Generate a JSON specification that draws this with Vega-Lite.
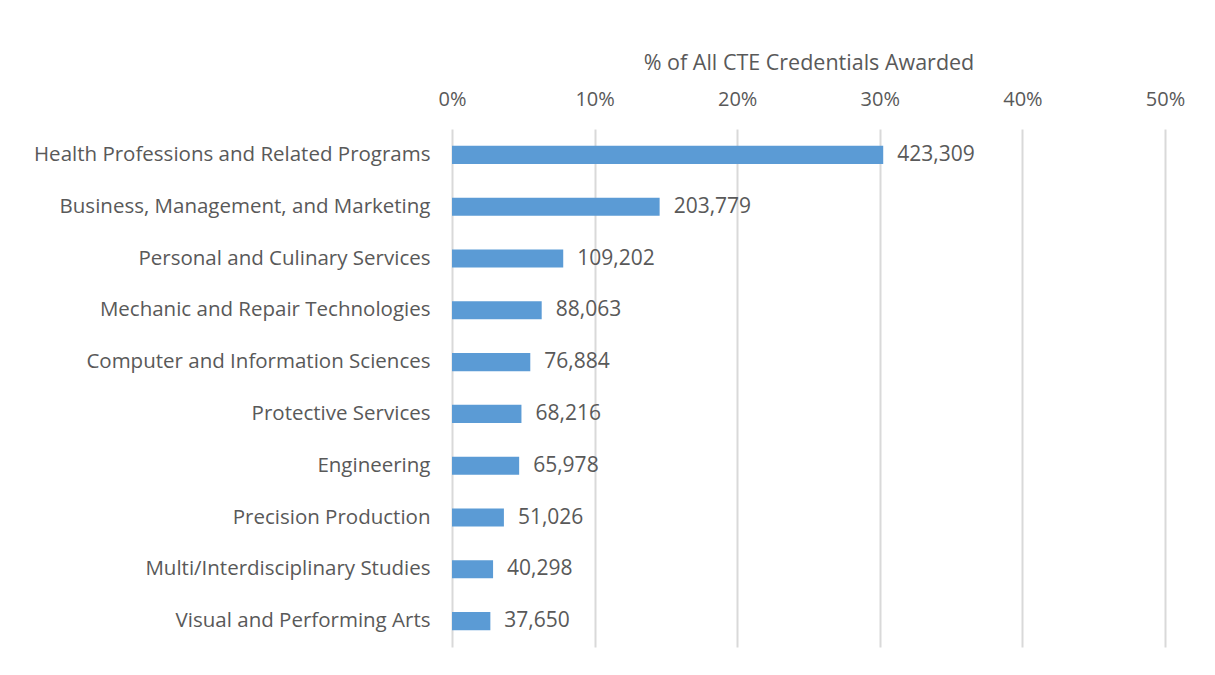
{
  "$schema": "https://vega.github.io/schema/vega-lite/v6.json",
  "width": 713,
  "height": 518,
  "autosize": {"type": "none"},
  "padding": {"left": 452, "top": 129, "right": 50, "bottom": 28},
  "background": "white",
  "config": {
    "view": {"stroke": null},
    "font": "Open Sans"
  },
  "data": {
    "values": [
      {"category": "Health Professions and Related Programs", "pct": 0.3024, "count": 423309},
      {"category": "Business, Management, and Marketing", "pct": 0.1456, "count": 203779},
      {"category": "Personal and Culinary Services", "pct": 0.078, "count": 109202},
      {"category": "Mechanic and Repair Technologies", "pct": 0.0629, "count": 88063},
      {"category": "Computer and Information Sciences", "pct": 0.0549, "count": 76884},
      {"category": "Protective Services", "pct": 0.0487, "count": 68216},
      {"category": "Engineering", "pct": 0.0471, "count": 65978},
      {"category": "Precision Production", "pct": 0.0364, "count": 51026},
      {"category": "Multi/Interdisciplinary Studies", "pct": 0.0288, "count": 40298},
      {"category": "Visual and Performing Arts", "pct": 0.0269, "count": 37650}
    ]
  },
  "encoding": {
    "y": {
      "field": "category",
      "type": "nominal",
      "sort": null,
      "scale": {"paddingInner": 0.65, "paddingOuter": 0.325},
      "axis": {
        "title": null,
        "ticks": false,
        "domain": false,
        "labelPadding": 22,
        "labelFontSize": 20.5,
        "labelColor": "#595959",
        "labelLimit": 0
      }
    },
    "x": {
      "field": "pct",
      "type": "quantitative",
      "scale": {"domain": [0, 0.5], "nice": false},
      "axis": {
        "orient": "top",
        "title": "% of All CTE Credentials Awarded",
        "titleFontSize": 21.5,
        "titleFontWeight": "normal",
        "titleColor": "#595959",
        "titlePadding": 15,
        "format": ".0%",
        "values": [0, 0.1, 0.2, 0.3, 0.4, 0.5],
        "ticks": false,
        "domain": false,
        "labelFlush": false,
        "labelPadding": 20,
        "labelFontSize": 20,
        "labelColor": "#595959",
        "gridColor": "#D9D9D9",
        "gridWidth": 2
      }
    }
  },
  "layer": [
    {"mark": {"type": "bar", "color": "#5B9BD5"}},
    {
      "mark": {"type": "text", "align": "left", "dx": 14, "fontSize": 21, "color": "#595959"},
      "encoding": {"text": {"field": "count", "type": "quantitative", "format": ","}}
    }
  ]
}
